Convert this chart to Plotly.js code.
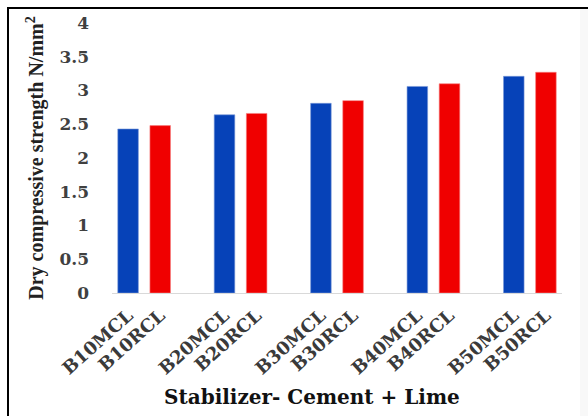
<!DOCTYPE html>
<html>
<head>
<meta charset="utf-8">
<script src="https://cdn.plot.ly/plotly-3.0.1.min.js"></script>
<style>
html,body{margin:0;padding:0;background:#fff;}
#wrap{position:relative;width:588px;height:416px;overflow:hidden;}
#chart{width:588px;height:416px;}
#frame{position:absolute;left:7px;top:7px;width:581px;height:409px;border-top:2px solid #000;border-left:2px solid #000;box-sizing:border-box;pointer-events:none;}
#edge{position:absolute;left:580px;top:9px;width:8px;height:407px;background:#f8f8f8;pointer-events:none;}
</style>
</head>
<body>
<div id="wrap"><div id="chart"></div><div id="edge"></div><div id="frame"></div></div>
<script>
var groups = ["B10", "B20", "B30", "B40", "B50"];
var mclLabels = ["B10MCL", "B20MCL", "B30MCL", "B40MCL", "B50MCL"];
var rclLabels = ["B10RCL", "B20RCL", "B30RCL", "B40RCL", "B50RCL"];
var mclValues = [2.43, 2.64, 2.81, 3.06, 3.21];
var rclValues = [2.48, 2.66, 2.85, 3.10, 3.27];
var yTicks = [0, 0.5, 1, 1.5, 2, 2.5, 3, 3.5, 4];
var xTitle = "Stabilizer- Cement + Lime";
var yTitle = "Dry compressive strength N/mm<sup>2</sup>";

// slot layout: each group uses two slots followed by a blank slot
var mclX = groups.map(function(g, i){ return i * 3; });
var rclX = groups.map(function(g, i){ return i * 3 + 1; });
var tickVals = [], tickText = [];
groups.forEach(function(g, i){
  tickVals.push(mclX[i], rclX[i]);
  tickText.push(mclLabels[i], rclLabels[i]);
});

var wideSerif = "'DejaVu Serif', serif";
var timesSerif = "'Liberation Serif', 'Times New Roman', serif";

var traces = [
  {type: "bar", x: mclX, y: mclValues, width: 0.64, name: "MCL",
   marker: {color: "#0642b8", line: {color: "#7a98d8", width: 0.6}}},
  {type: "bar", x: rclX, y: rclValues, width: 0.64, name: "RCL",
   marker: {color: "#f00000", line: {color: "#f78080", width: 0.6}}}
];

var layout = {
  width: 588, height: 416,
  margin: {l: 112, r: 26, t: 23, b: 123},
  paper_bgcolor: "rgba(0,0,0,0)", plot_bgcolor: "rgba(0,0,0,0)",
  showlegend: false,
  xaxis: {
    range: [-0.5, 13.5], tickmode: "array", tickvals: tickVals, ticktext: tickText,
    tickangle: -42, showgrid: false, zeroline: false, automargin: false,
    showline: true, linecolor: "#d9d9d9", linewidth: 1, ticks: "",
    ticklabelstandoff: 4,
    tickfont: {family: wideSerif, size: 18, color: "#3a3a3a", weight: "bold"}
  },
  yaxis: {
    range: [0, 4], tickmode: "array", tickvals: yTicks,
    ticktext: yTicks.map(function(v){ return String(v); }),
    showgrid: false, zeroline: false, showline: false, ticks: "", automargin: false,
    ticklabelstandoff: 22,
    tickfont: {family: wideSerif, size: 17, color: "#404040", weight: "bold"},
    title: {text: "<b>" + yTitle + "</b>", standoff: 10,
            font: {family: timesSerif, size: 20, color: "#222"}}
  },
  annotations: [{
    text: "<b>" + xTitle + "</b>", xref: "paper", yref: "paper",
    x: 0.444, y: -0.385, xanchor: "center", yanchor: "middle", showarrow: false,
    font: {family: wideSerif, size: 20, color: "#111"}
  }]
};

Plotly.newPlot("chart", traces, layout, {displayModeBar: false, staticPlot: true});
</script>
</body>
</html>
